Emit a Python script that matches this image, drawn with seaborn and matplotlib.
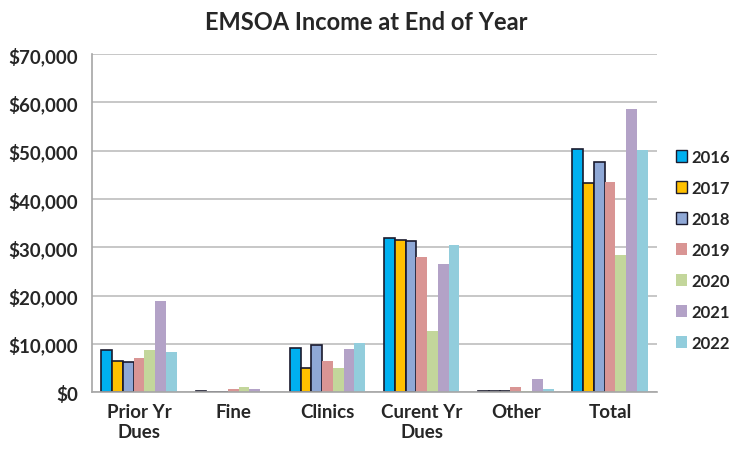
import pandas as pd
import matplotlib
matplotlib.use("Agg")
import matplotlib.pyplot as plt
import seaborn as sns
from matplotlib.patches import Patch
from matplotlib.ticker import FuncFormatter

categories = ["Prior Yr\nDues", "Fine", "Clinics", "Curent Yr\nDues", "Other", "Total"]
years = ["2016", "2017", "2018", "2019", "2020", "2021", "2022"]

# income per category, one list per year
income = {
    "2016": [8700, 250, 9200, 31900, 300, 50300],
    "2017": [6500, 0, 5000, 31500, 300, 43400],
    "2018": [6200, 0, 9800, 31300, 300, 47700],
    "2019": [7000, 600, 6500, 27900, 1000, 43500],
    "2020": [8700, 1000, 5000, 12700, 300, 28400],
    "2021": [18900, 600, 9000, 26600, 2800, 58600],
    "2022": [8300, 0, 10100, 30500, 600, 50200],
}
colors = ["#00B0F0", "#FFC000", "#8FA8D6", "#D99594", "#C3D69B", "#B3A2C7", "#92CDDC"]
outlined = ["2016", "2017", "2018"]

rows = []
for y in years:
    for c, v in zip(categories, income[y]):
        rows.append({"category": c, "year": y, "income": v})
df = pd.DataFrame(rows)

sns.set_style("white")
plt.rcParams["font.family"] = ["Lato", "DejaVu Sans"]

fig = plt.figure(figsize=(7.33, 4.56), dpi=100)
ax = fig.add_axes([0.1255, 0.138, 0.771, 0.741])

sns.barplot(data=df, x="category", y="income", hue="year", palette=colors,
            order=categories, hue_order=years, width=0.8, ax=ax, legend=False,
            saturation=1)

for y, cont in zip(years, ax.containers):
    for bar in cont:
        if y in outlined:
            bar.set_edgecolor("#1a1a2e")
            bar.set_linewidth(1.2)
        else:
            bar.set_linewidth(0)

ax.set_ylim(0, 70000)
ax.set_yticks(range(0, 70001, 10000))
ax.yaxis.set_major_formatter(FuncFormatter(lambda v, p: f"${v:,.0f}"))
ax.grid(axis="y", color="#bdbdbd", linewidth=1.2)
ax.set_axisbelow(True)
for s in ["top", "right"]:
    ax.spines[s].set_visible(False)
for s in ["left", "bottom"]:
    ax.spines[s].set_color("#a6a6a6")
    ax.spines[s].set_linewidth(1.2)
ax.tick_params(axis="y", length=4, color="#a6a6a6", labelsize=13.5, pad=6)
ax.tick_params(axis="x", length=0, labelsize=13.5, pad=8)
for lbl in ax.get_xticklabels() + ax.get_yticklabels():
    lbl.set_fontweight("bold")
ax.set_xlabel("")
ax.set_ylabel("")

fig.suptitle("EMSOA Income at End of Year", fontsize=17, fontweight="bold", y=0.975)

handles = [Patch(facecolor=c, edgecolor="#1a1a2e" if y in outlined else c,
                 linewidth=1.0 if y in outlined else 0)
           for y, c in zip(years, colors)]
leg = fig.legend(handles, years, loc="center left", bbox_to_anchor=(676 / 733, 1 - 251 / 456),
                 frameon=False, handlelength=0.68, handleheight=0.68,
                 handletextpad=0.25, labelspacing=0.9, borderpad=0, borderaxespad=0,
                 prop={"size": 12, "weight": "bold"})

fig.savefig("out.png", dpi=100)
